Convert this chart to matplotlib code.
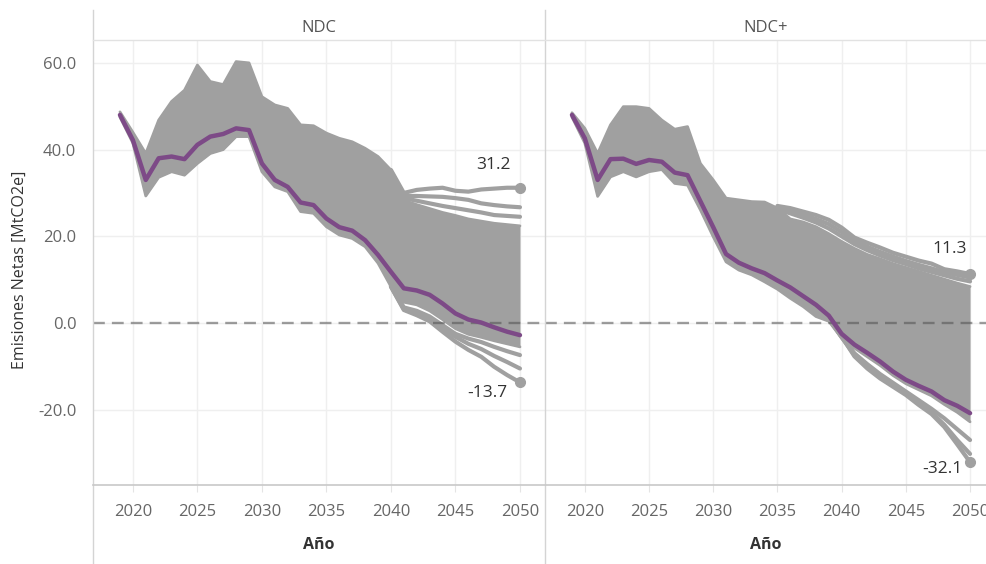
import matplotlib
matplotlib.use('Agg')
import matplotlib.pyplot as plt
from matplotlib.lines import Line2D

plt.rcParams['font.family'] = ['Open Sans', 'DejaVu Sans']

# ---------------- data ----------------
years = list(range(2019, 2051))
panel_titles = ['NDC', 'NDC+']
x_ticks = [2020, 2025, 2030, 2035, 2040, 2045, 2050]
y_ticks = [-20, 0, 20, 40, 60]
x_title = 'Año'
y_title = 'Emisiones Netas [MtCO2e]'

# NDC panel
ndc_highlight = [48.0, 42.2, 33.0, 38.0, 38.4, 37.8, 41.1, 43.0, 43.6, 44.9, 44.5,
                 36.8, 33.0, 31.4, 27.8, 27.2, 24.1, 22.1, 21.3, 19.1, 15.7,
                 11.8, 8.0, 7.5, 6.5, 4.5, 2.2, 0.8, 0.1, -1.0, -2.0, -2.8]
ndc_band_hi = [48.7, 44.0, 39.1, 46.8, 51.1, 53.7, 59.5, 55.7, 55.0, 60.3, 60.0,
               52.2, 50.3, 49.5, 45.7, 45.5, 43.8, 42.6, 41.8, 40.3, 38.4,
               35.3, 28.3, 27.3, 26.4, 25.5, 24.8, 24.0, 23.5, 23.0, 22.7, 22.4]
ndc_band_lo = [47.5, 41.5, 29.3, 33.6, 34.9, 34.1, 36.8, 39.1, 40.0, 43.0, 43.0,
               34.9, 31.4, 30.3, 25.7, 25.3, 22.2, 20.3, 19.5, 17.6, 13.8,
               8.4, 4.8, 4.2, 2.8, 0.8, -1.3, -2.6, -3.3, -4.1, -4.8, -5.5]
ndc_upper_tail_years = list(range(2040, 2051))
ndc_upper_tails = [
    [35.3, 30.0, 30.7, 31.0, 31.2, 30.5, 30.3, 30.8, 31.0, 31.2, 31.2],
    [35.0, 29.3, 29.3, 29.2, 29.1, 28.8, 28.4, 27.6, 27.2, 26.9, 26.7],
    [34.5, 28.8, 28.2, 27.6, 27.0, 26.5, 26.0, 25.5, 24.9, 24.7, 24.5],
]
ndc_lower_tail_years = list(range(2040, 2051))
ndc_lower_tails = [
    [8.4, 3.0, 1.8, 0.4, -2.0, -4.3, -6.2, -7.8, -10.1, -12.0, -13.7],
    [8.4, 3.2, 2.2, 0.8, -1.2, -3.2, -4.8, -6.0, -7.6, -9.0, -10.5],
    [8.6, 3.6, 2.8, 1.5, -0.5, -2.5, -3.6, -4.4, -5.5, -6.5, -7.4],
]

# NDC+ panel
ndcp_highlight = [48.0, 42.6, 33.0, 37.8, 37.9, 36.7, 37.6, 37.2, 34.7, 34.1, 28.1,
                  22.1, 15.9, 13.9, 12.6, 11.5, 9.8, 8.2, 6.2, 4.2, 1.7,
                  -2.5, -5.0, -6.9, -8.9, -11.2, -13.1, -14.5, -15.8, -17.8, -19.1, -20.8]
ndcp_band_hi = [48.5, 44.9, 39.1, 45.7, 49.9, 49.9, 49.5, 46.8, 44.7, 45.3, 36.8,
                33.0, 28.8, 28.4, 28.0, 27.9, 26.5, 24.0, 23.3, 22.2, 20.6,
                18.8, 17.2, 15.8, 14.8, 13.7, 12.8, 11.9, 11.0, 10.1, 9.2, 8.4]
ndcp_band_lo = [47.5, 41.5, 29.2, 33.7, 34.9, 33.7, 34.9, 35.4, 32.2, 31.8, 26.1,
                19.9, 14.1, 12.2, 11.1, 9.5, 7.8, 5.7, 3.8, 1.5, 0.4,
                -3.5, -5.8, -7.8, -9.8, -12.1, -14.0, -15.4, -16.8, -18.8, -20.6, -22.8]
ndcp_upper_tail_years = list(range(2035, 2051))
ndcp_upper_tails = [
    [27.0, 26.5, 25.7, 24.9, 23.8, 22.0, 19.7, 18.5, 17.4, 16.2, 15.3, 14.4, 13.7, 12.4, 11.9, 11.3],
    [26.6, 26.0, 25.0, 24.0, 22.8, 21.0, 19.0, 17.6, 16.4, 15.3, 14.3, 13.4, 12.6, 11.7, 11.1, 10.5],
    [26.2, 25.3, 24.3, 23.2, 21.8, 20.0, 18.2, 16.8, 15.6, 14.5, 13.6, 12.6, 11.8, 11.0, 10.2, 9.6],
]
ndcp_lower_tail_years = list(range(2039, 2051))
ndcp_lower_tails = [
    [1.1, -3.1, -7.7, -10.5, -12.8, -14.7, -16.6, -18.9, -21.0, -24.0, -28.0, -32.1],
    [1.0, -3.3, -7.4, -10.0, -12.3, -14.3, -16.2, -18.4, -20.6, -23.5, -27.0, -30.2],
    [1.2, -3.2, -7.0, -9.5, -11.8, -13.8, -15.8, -17.8, -19.8, -22.0, -24.5, -27.0],
]

# ---------------- figure ----------------
W, H = 987, 564
fig = plt.figure(figsize=(W / 100, H / 100), dpi=100)


def fx(px):
    return px / W


def fy(py):
    return 1 - py / H


GRAY = '#a0a0a0'
PURPLE = '#7d4a87'
TXT = '#333333'
TICK = '#666666'

ax1 = fig.add_axes([fx(93), fy(485), fx(452), 445 / H])
ax2 = fig.add_axes([fx(545), fy(485), fx(442), 445 / H])

panel_specs = [
    (ax1, (2016.91, 2051.94), ndc_highlight, ndc_band_hi, ndc_band_lo,
     ndc_upper_tail_years, ndc_upper_tails, ndc_lower_tail_years, ndc_lower_tails,
     (-27, 23), (-33, -11)),
    (ax2, (2016.90, 2051.32), ndcp_highlight, ndcp_band_hi, ndcp_band_lo,
     ndcp_upper_tail_years, ndcp_upper_tails, ndcp_lower_tail_years, ndcp_lower_tails,
     (-20, 25), (-28, -7)),
]

for (ax, xl, hl, bhi, blo, uty, uts, lty, lts, off_hi, off_lo) in panel_specs:
    ax.set_xlim(*xl)
    ax.set_ylim(-37.37, 65.28)
    for s in ax.spines.values():
        s.set_visible(False)
    ax.set_xticks(x_ticks)
    ax.set_yticks(y_ticks)
    ax.grid(True, color='#efefef', lw=1.0, zorder=0)
    ax.set_axisbelow(True)
    ax.tick_params(axis='x', length=5, color='#e4e4e4', labelsize=12,
                   labelcolor=TICK, pad=9)
    ax.tick_params(axis='y', length=0, labelsize=12, labelcolor=TICK, pad=12)
    ax.set_yticklabels([f'{v:.1f}' for v in y_ticks])

    # ensemble of scenarios: dense band plus separated outer trajectories
    ax.fill_between(years, blo, bhi, color=GRAY, lw=0, zorder=2)
    for series in (bhi, blo):
        ax.plot(years, series, color=GRAY, lw=2.0, solid_joinstyle='round',
                solid_capstyle='round', zorder=2)
    for t in uts:
        ax.plot(uty, t, color=GRAY, lw=3.0, solid_joinstyle='round',
                solid_capstyle='round', zorder=3)
    for t in lts:
        ax.plot(lty, t, color=GRAY, lw=3.0, solid_joinstyle='round',
                solid_capstyle='round', zorder=3)

    ax.axhline(0, color='#505050', alpha=0.55, lw=1.7, ls=(0, (5, 3)), zorder=4)

    ax.plot(years, hl, color=PURPLE, lw=3.2, solid_joinstyle='round',
            solid_capstyle='round', zorder=5)

    end_vals = [t[-1] for t in uts] + [t[-1] for t in lts] + [bhi[-1], blo[-1], hl[-1]]
    vmax, vmin = max(end_vals), min(end_vals)
    for v, off in ((vmax, off_hi), (vmin, off_lo)):
        ax.plot([years[-1]], [v], 'o', color=GRAY, ms=7, zorder=3)
        ax.annotate(f'{v:.1f}', xy=(years[-1], v), xytext=off,
                    textcoords='offset pixels', ha='center', va='center',
                    fontsize=12.5, color=TXT, zorder=6)

ax2.tick_params(axis='y', labelleft=False)

# facet headers and axis titles
fig.text(fx(319), fy(28), panel_titles[0], ha='center', va='center',
         fontsize=12, color='#555555')
fig.text(fx(766), fy(28), panel_titles[1], ha='center', va='center',
         fontsize=12, color='#555555')
fig.text(fx(319), fy(545), x_title, ha='center', va='center', fontsize=11.5,
         fontweight='bold', color=TXT)
fig.text(fx(766), fy(545), x_title, ha='center', va='center', fontsize=11.5,
         fontweight='bold', color=TXT)
fig.text(fx(20), fy(270), y_title, ha='center', va='center', rotation=90,
         fontsize=11.5, color=TXT)

# frame lines (Tableau style)
fig.add_artist(Line2D([fx(93), fx(93)], [fy(10), fy(564)], color='#d4d4d4', lw=1))
fig.add_artist(Line2D([fx(545), fx(545)], [fy(10), fy(564)], color='#d4d4d4', lw=1))
fig.add_artist(Line2D([fx(93), fx(987)], [fy(40), fy(40)], color='#e2e2e2', lw=1))
fig.add_artist(Line2D([fx(93), fx(987)], [fy(485), fy(485)], color='#c8c8c8', lw=1.2))

fig.savefig('out.png', dpi=100)
